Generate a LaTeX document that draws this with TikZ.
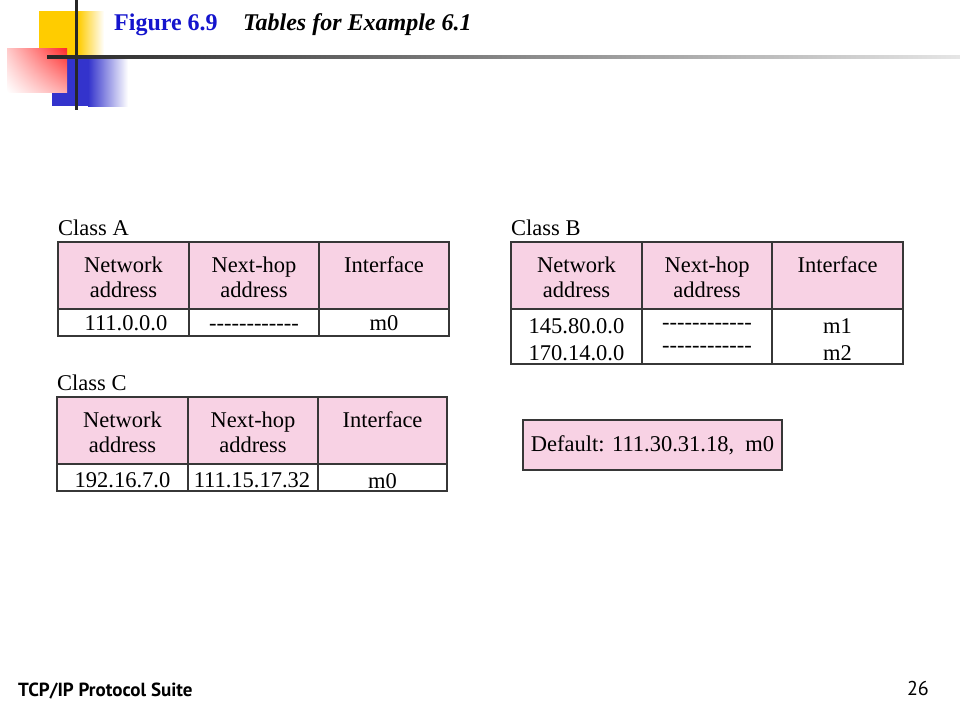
\documentclass[tikz,border=0pt]{standalone}
\usepackage{fontspec}
\setmainfont{Liberation Serif}
\newfontfamily\footfont{PT Sans}
\usetikzlibrary{positioning}
\usetikzlibrary{shadings}
\definecolor{tablepink}{RGB}{248,210,228}
\definecolor{linegray}{RGB}{55,55,55}
\definecolor{titleblue}{RGB}{20,20,205}
\definecolor{yellowsq}{RGB}{255,204,0}
\definecolor{bluesq}{RGB}{51,51,204}
\definecolor{redsq}{RGB}{255,40,40}

\newcommand{\nohop}{\foreach \k in {1,...,12}{-\kern0pt}}

\tikzset{
  hdr/.style={draw=linegray, line width=1.5pt, fill=tablepink},
  datarow/.style={draw=linegray, line width=1.5pt, fill=white},
  celltext/.style={anchor=base, inner sep=0pt, font=\fontsize{22.5}{27}\selectfont},
  classlabel/.style={anchor=base west, inner sep=0pt, font=\fontsize{22.5}{27}\selectfont},
}

\begin{document}
\begin{tikzpicture}[x=1pt, y=-1pt]

\useasboundingbox (0,0) rectangle (960,720);

% corner decoration
\fill[yellowsq] (39,11) rectangle (78,57);
\shade[left color=yellowsq, right color=white] (78,11) rectangle (104,57);
\fill[bluesq] (52,57) rectangle (88,106);
\shade[left color=bluesq, right color=white] (88,57) rectangle (128,106);
\shade[upper left=redsq!25, upper right=redsq, lower left=white, lower right=redsq!40] (7,48) rectangle (67,92);
\fill[black!85] (74.5,0) rectangle (77.5,110);
\shade[left color=black!85, right color=black!10] (47,55.5) rectangle (960,58.5);

\node[anchor=base west, inner sep=0pt, text=titleblue, font=\fontsize{24}{29}\selectfont\bfseries] (fig) at (114,30) {Figure 6.9};
\node[base right=25pt of fig, inner sep=0pt, font=\fontsize{24}{29}\selectfont\bfseries\itshape] (figtitle) {Tables for Example 6.1};

% Class A
\node[classlabel] (classA) at (58,235) {Class A};
\draw[hdr] (58,242) rectangle (189,309);
\draw[hdr] (189,242) rectangle (319,309);
\draw[hdr] (319,242) rectangle (449,309);
\draw[datarow] (58,309) rectangle (449,336);
\draw[linegray, line width=1.5pt] (189,309) -- (189,336);
\draw[linegray, line width=1.5pt] (319,309) -- (319,336);
\node[celltext] (aNet) at (123.5,272) {Network};
\node[celltext] (aNetB) at (123.5,297) {address};
\node[celltext] (aHop) at (254,272) {Next-hop};
\node[celltext] (aHopB) at (254,297) {address};
\node[celltext] (aIf) at (384,272) {Interface};
\node[celltext] (aDest) at (126,330) {111.0.0.0};
\node[celltext] (aNext) at (254,330) {\nohop};
\node[celltext] (aPort) at (384,330) {m0};

% Class C
\node[classlabel] (classC) at (57,390) {Class C};
\draw[hdr] (57,397) rectangle (188,464);
\draw[hdr] (188,397) rectangle (318,464);
\draw[hdr] (318,397) rectangle (447,464);
\draw[datarow] (57,464) rectangle (447,491);
\draw[linegray, line width=1.5pt] (188,464) -- (188,491);
\draw[linegray, line width=1.5pt] (318,464) -- (318,491);
\node[celltext] (cNet) at (122.5,427) {Network};
\node[celltext] (cNetB) at (122.5,452) {address};
\node[celltext] (cHop) at (253,427) {Next-hop};
\node[celltext] (cHopB) at (253,452) {address};
\node[celltext] (cIf) at (382.5,427) {Interface};
\node[celltext] (cDest) at (122.5,487) {192.16.7.0};
\node[celltext] (cNext) at (252,487) {111.15.17.32};
\node[celltext] (cPort) at (382.5,488) {m0};

% Class B
\node[classlabel] (classB) at (511,235) {Class B};
\draw[hdr] (511,242) rectangle (642,309);
\draw[hdr] (642,242) rectangle (772,309);
\draw[hdr] (772,242) rectangle (903,309);
\draw[datarow] (511,309) rectangle (903,364);
\draw[linegray, line width=1.5pt] (642,309) -- (642,364);
\draw[linegray, line width=1.5pt] (772,309) -- (772,364);
\node[celltext] (bNet) at (576.5,272) {Network};
\node[celltext] (bNetB) at (576.5,297) {address};
\node[celltext] (bHop) at (707,272) {Next-hop};
\node[celltext] (bHopB) at (707,297) {address};
\node[celltext] (bIf) at (837.5,272) {Interface};
\node[celltext] (bDestA) at (576.5,333) {145.80.0.0};
\node[celltext] (bDestB) at (576.5,360) {170.14.0.0};
\node[celltext] (bNextA) at (707,329) {\nohop};
\node[celltext] (bNextB) at (707,352) {\nohop};
\node[celltext] (bPortA) at (837.5,333) {m1};
\node[celltext] (bPortB) at (837.5,360) {m2};

% default route
\node[hdr, minimum width=259pt, minimum height=50pt, inner sep=0pt, font=\fontsize{22.5}{27}\selectfont] (default) at (652.5,445) {Default: 111.30.31.18,\ \ m0};

\node[anchor=base west, inner sep=0pt, font=\footfont\bfseries\fontsize{19}{23}\selectfont] (suite) at (18,696) {TCP/IP Protocol Suite};
\node[anchor=base east, inner sep=0pt, font=\footfont\fontsize{20}{24}\selectfont] (pagenum) at (929,695) {26};

\end{tikzpicture}
\end{document}
